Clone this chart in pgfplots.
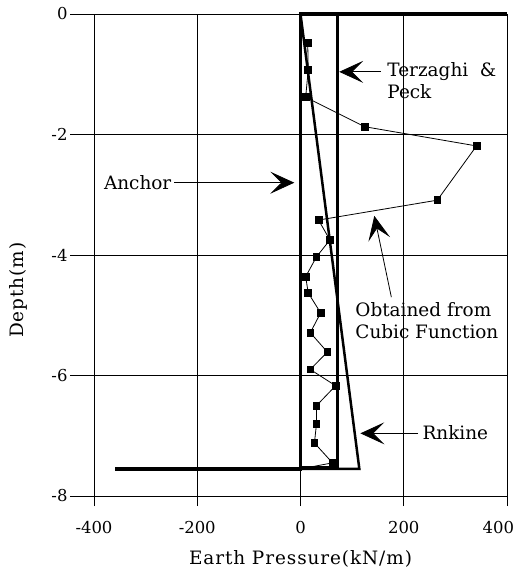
\documentclass[border=0pt]{standalone}
\usepackage{fontspec}
\setmainfont{DejaVu Serif}
\usepackage{pgfplots}
\pgfplotsset{compat=1.18}
\usetikzlibrary{arrows.meta}
\tikzset{bigarrow/.style={line width=0.8bp, -{Stealth[length=24bp,width=22bp,inset=11bp]}}}
\newcommand{\tl}[1]{{\fontsize{16.5}{19}\selectfont #1}}
\begin{document}
\begin{tikzpicture}[x=1bp,y=1bp,font=\fontsize{18.5}{23}\selectfont]
\begin{axis}[
  scale only axis,
  width=413bp, height=482bp,
  xmin=-400, xmax=400, ymin=-8, ymax=0,
  xtick={-400,-200,0,200,400},
  xticklabels={\tl{-400},\tl{-200},\tl{0},\tl{200},{\makebox[14bp][r]{\tl{400}}}},
  ytick={-8,-6,-4,-2,0},
  yticklabels={\tl{-8},\tl{-6},\tl{-4},\tl{-2},\tl{0}},
  grid=major,
  grid style={black, line width=0.6bp},
  axis line style={black, line width=0.8bp},
  tick align=outside, major tick length=10bp,
  tick style={black, line width=0.8bp},
  xtick pos=bottom, ytick pos=left,
  /pgf/number format/assume math mode=true,
  xticklabel style={yshift=-12bp},
  yticklabel style={xshift=-13bp},
  xlabel={\addfontfeatures{LetterSpace=5}Earth Pressure(kN/m)},
  ylabel={\addfontfeatures{LetterSpace=5}Depth(m)},
  xlabel style={at={(axis description cs:0.5,-0.13)}, anchor=center},
  ylabel style={at={(axis description cs:-0.184,0.427)}, anchor=center},
  clip=false,
]
% Rankine
\addplot[black, line width=2.5bp] coordinates {(0,0) (114,-7.55) (0,-7.55)};
% Terzaghi & Peck
\addplot[black, line width=3bp] coordinates {(72,0) (72,-7.53) (0,-7.53)};
% wall / anchor
\addplot[black, line width=3.5bp] coordinates {(400,0) (0,0) (0,-7.55) (-360,-7.55)};
% cubic function
\addplot[black, line width=0.8bp, mark=square*, mark size=3.4bp] coordinates {
  (14,-0.48) (15,-0.93) (10,-1.38) (124,-1.87) (341,-2.19) (265,-3.09)
  (35,-3.42) (57,-3.75) (31,-4.03) (10,-4.36) (15,-4.63) (39,-4.96)
  (19,-5.29) (52,-5.61) (19,-5.90) (68,-6.17) (31,-6.50) (31,-6.80)
  (27,-7.12) (62,-7.45)};
\addplot[black, line width=0.8bp] coordinates {(62,-7.45) (0,-7.55)};

% long outward y ticks
\pgfplotsinvokeforeach{0,-2,-4,-6,-8}{
  \draw[black, line width=0.8bp] (axis cs:-400,#1) -- ++(-24bp,0bp);
}

\node[anchor=north west, align=left, inner sep=0pt] at (axis cs:168,-0.80) {Terzaghi\ \ \&\\[-1pt]Peck};
\draw[bigarrow] (axis cs:155,-0.96) -- (axis cs:75,-0.96);
\node[anchor=west, inner sep=0pt] at (axis cs:-381,-2.8) {Anchor};
\draw[bigarrow] (axis cs:-245,-2.8) -- (axis cs:-12,-2.8);
\node[anchor=north west, align=left, inner sep=0pt] at (axis cs:106,-4.78) {Obtained from\\[-1pt]Cubic Function};
\draw[bigarrow] (axis cs:176,-4.70) -- (axis cs:143,-3.35);
\node[anchor=west, inner sep=0pt] at (axis cs:236,-6.95) {Rnkine};
\draw[bigarrow] (axis cs:228,-6.96) -- (axis cs:116,-6.96);
\end{axis}
\pgfresetboundingbox
\path (current axis.south west) ++(-94bp,-76bp) rectangle ++(515bp,572bp);
\end{tikzpicture}
\end{document}
